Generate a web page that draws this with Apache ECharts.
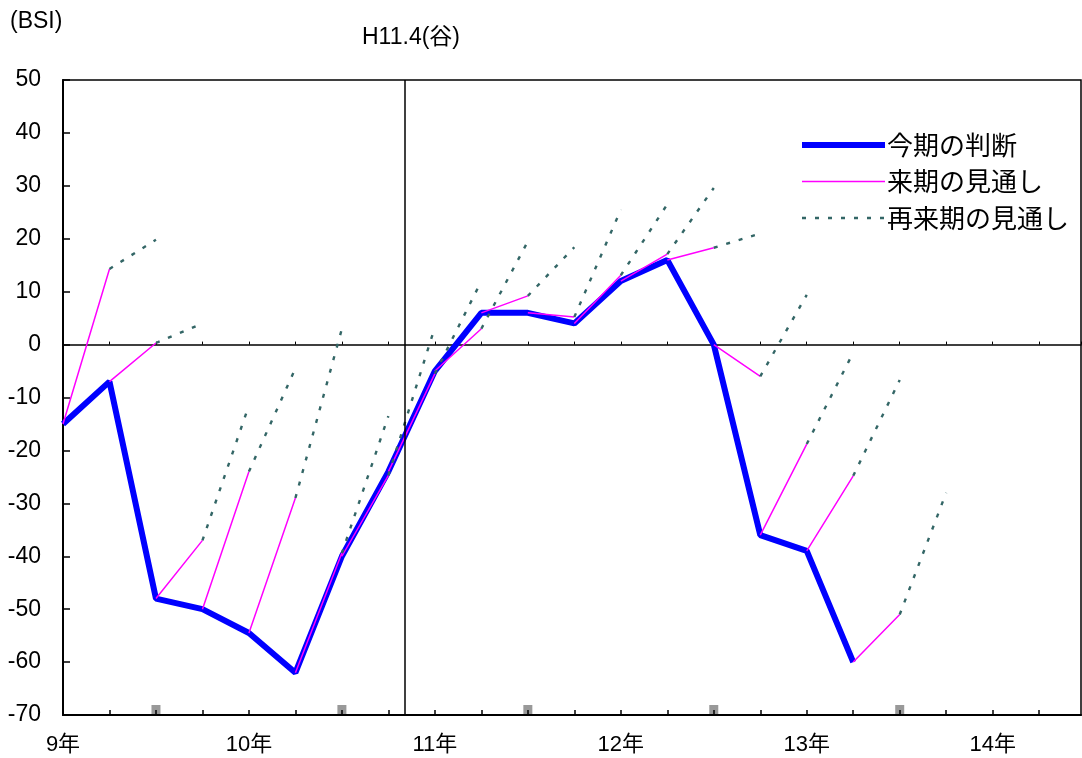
<!DOCTYPE html>
<html>
<head>
<meta charset="utf-8">
<script src="https://cdn.jsdelivr.net/npm/echarts@6/dist/echarts.min.js"></script>
<style>
  html, body { margin: 0; padding: 0; background: #fff; }
  #chart { width: 1082px; height: 758px; }
</style>
</head>
<body>
<div id="chart"></div>
<script>
// ---- data (x = quarter index from 9年) ----
const yearLabels = ['9年', '10年', '11年', '12年', '13年', '14年'];
const seriesNames = ['今期の判断', '来期の見通し', '再来期の見通し'];
// 今期の判断 at quarter i
const current = [-15, -7, -48, -50, -54.5, -62, -40, -24, -5, 6, 6, 4, 12, 16, 0, -36, -39, -60];
// 来期の見通し made at quarter i (value for quarter i+1)
const nextForecast = [14.3, 0.3, -37, -24, -29, -39.4, -24.7, -5.5, 3, 9.2, 5.2, 13.1, 17.1, 18.3, -6, -18.8, -24.8, -51];
// 再来期の見通し made at quarter i (value for quarter i+2)
const next2Forecast = [19.8, 4, -11.5, -4.5, 3, -13.5, 3.3, 12, 19.5, 18.4, 25.5, 26.5, 29.6, 21, 9.4, -1.5, -6.7, -28];
const troughQuarter = 7.35;
const troughLabel = 'H11.4(谷)';
const markerQuarters = [2, 6, 10, 14, 18];
const yUnit = '(BSI)';

const FONT = "'Liberation Sans', 'Noto Sans CJK JP', Arial, sans-serif";

const currentData = current.map((v, i) => [i, v]);
const nextData = [];
const next2Data = [];
current.forEach((v, i) => {
  nextData.push([i, v], [i + 1, nextForecast[i]], [i + 1, null]);
  next2Data.push([i + 1, nextForecast[i]], [i + 2, next2Forecast[i]], [i + 2, null]);
});

const chart = echarts.init(document.getElementById('chart'));
const xCommon = { type: 'value', min: 0, max: 21.9, interval: 1 };
chart.setOption({
  animation: false,
  backgroundColor: '#fff',
  textStyle: { fontFamily: FONT },
  grid: { left: 63, right: 1, top: 80, bottom: 43, show: true, borderColor: '#000', borderWidth: 1.5, backgroundColor: 'transparent' },
  legend: {
    data: seriesNames,
    orient: 'vertical',
    left: 794, top: 127,
    itemWidth: 83, itemHeight: 14, itemGap: 10.5,
    lineStyle: { width: 'inherit' },
    itemStyle: { opacity: 0 },
    textStyle: { fontSize: 26, color: '#000', fontFamily: "'Noto Sans CJK JP', sans-serif", padding: [0, 0, 0, -3] },
    selectedMode: false
  },
  graphic: [
    { type: 'text', left: 10, top: 10, style: { text: yUnit, fontSize: 23, fill: '#000', fontFamily: FONT } },
    { type: 'text', left: 362, top: 26, style: { text: troughLabel, fontSize: 23, fill: '#000', fontFamily: FONT } }
  ],
  xAxis: [
    Object.assign({}, xCommon, {
      position: 'bottom',
      z: 5,
      axisLine: { onZero: false, lineStyle: { color: '#000', width: 2 } },
      axisTick: { inside: true, length: 5, lineStyle: { color: '#000', width: 1.5 } },
      splitLine: { show: false },
      axisLabel: {
        showMaxLabel: false,
        margin: 19, fontSize: 22, color: '#000', fontFamily: FONT,
        formatter: v => (Math.abs(v % 4) < 1e-9 ? (yearLabels[v / 4] || '') : '')
      }
    }),
    Object.assign({}, xCommon, {
      position: 'bottom',
      axisLine: { onZero: true, onZeroAxisIndex: 0, lineStyle: { color: '#000', width: 1.5 } },
      axisTick: { inside: true, length: 3, lineStyle: { color: '#000', width: 1 } },
      splitLine: { show: false },
      axisLabel: { show: false }
    })
  ],
  yAxis: {
    type: 'value', min: -70, max: 50, interval: 10,
    axisLine: { show: true, onZero: false, lineStyle: { color: '#000', width: 2 } },
    axisTick: { inside: true, length: 7, lineStyle: { color: '#000', width: 1.5 } },
    splitLine: { show: false },
    axisLabel: { margin: 22, fontSize: 23, color: '#000', fontFamily: FONT }
  },
  series: [
    {
      name: seriesNames[0], type: 'line', xAxisIndex: 0, data: currentData,
      symbol: 'none', z: 2,
      lineStyle: { color: '#0000ff', width: 6 },
      itemStyle: { color: '#0000ff' },
      markLine: {
        silent: true, symbol: 'none',
        label: { show: false },
        lineStyle: { color: '#000', width: 1.5, type: 'solid' },
        data: [{ xAxis: troughQuarter }]
      }
    },
    {
      name: seriesNames[1], type: 'line', xAxisIndex: 0, data: nextData,
      symbol: 'none', z: 3, connectNulls: false,
      lineStyle: { color: '#ff00ff', width: 1.5 },
      itemStyle: { color: '#ff00ff' }
    },
    {
      name: seriesNames[2], type: 'line', xAxisIndex: 0, data: next2Data,
      symbol: 'none', z: 4, connectNulls: false,
      lineStyle: { color: '#336666', width: 2.4, type: [4, 9] },
      itemStyle: { color: '#336666' }
    },
    {
      name: 'markers', type: 'scatter', xAxisIndex: 0,
      data: markerQuarters.map(q => [q, -70]),
      symbol: 'rect', symbolSize: [9, 10], symbolOffset: [0, -5],
      itemStyle: { color: '#808080' }, silent: true, clip: false, z: 1
    }
  ]
});
</script>
</body>
</html>
